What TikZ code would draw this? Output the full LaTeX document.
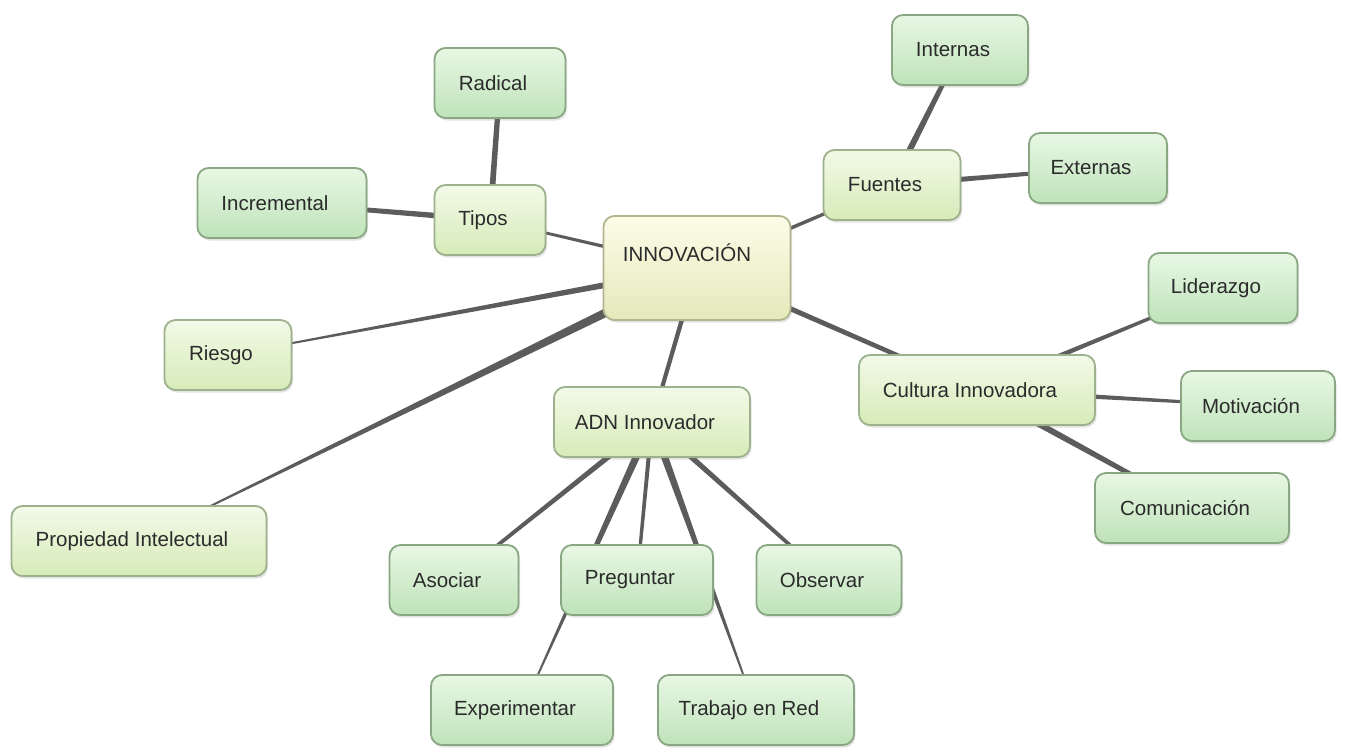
\documentclass[tikz,border=0pt]{standalone}
\usepackage{fontspec}
\setmainfont{Liberation Sans}
\usetikzlibrary{calc,backgrounds,shadows}

\definecolor{inktext}{HTML}{2B2B2B}
\definecolor{linkgray}{HTML}{5C5C5C}
\definecolor{leaftop}{HTML}{E8F7E4}
\definecolor{leafbot}{HTML}{BFE3BA}
\definecolor{leafrim}{HTML}{8AA783}
\definecolor{branchtop}{HTML}{F2FAE8}
\definecolor{branchbot}{HTML}{D6EBB8}
\definecolor{branchrim}{HTML}{9DB28C}
\definecolor{hubtop}{HTML}{FCFCE8}
\definecolor{hubbot}{HTML}{E5E9BA}
\definecolor{hubrim}{HTML}{B2B690}

\tikzset{
  x=1pt, y=-1pt,
  labelfont/.style={font=\fontsize{20.5}{24}\selectfont},
  box/.style={rounded corners=11pt, line width=1.8pt, inner sep=0pt,
    minimum height=70pt, text=inktext, labelfont,
    drop shadow={shadow xshift=1.5pt, shadow yshift=-2.5pt, opacity=0.22},
    execute at end node={\hspace*{14pt}}},
  leaf/.style={box, draw=leafrim, top color=leaftop, bottom color=leafbot},
  branch/.style={box, draw=branchrim, top color=branchtop, bottom color=branchbot},
  hub/.style={box, draw=hubrim, top color=hubtop, bottom color=hubbot},
  link/.style={fill=linkgray}
}

% tapered connector: node A, node B, half width at A, half width at B
\newcommand\linkpair[4]{%
  \fill[link] ($(#1.center)!#3!90:(#2.center)$)
    -- ($(#2.center)!#4!-90:(#1.center)$)
    -- ($(#2.center)!#4!90:(#1.center)$)
    -- ($(#1.center)!#3!-90:(#2.center)$) -- cycle;}

\begin{document}
\begin{tikzpicture}
\useasboundingbox (0,0) rectangle (1351,753);

% central topic
\node[hub, minimum width=187pt, minimum height=104pt,
      execute at end node={},
      label={[name=innovtext, text=inktext, labelfont,
              xshift=-10pt, yshift=15pt]center:INNOVACIÓN}]
      (innov) at (697,268) {};

% first level
\node[branch, minimum width=111pt] (tipos)   at (490,220) {Tipos};
\node[branch, minimum width=137pt] (fuentes) at (892,185) {Fuentes};
\node[branch, minimum width=127pt] (riesgo)  at (228,355) {Riesgo};
\node[branch, minimum width=255pt] (prop)    at (139,541) {Propiedad Intelectual};
\node[branch, minimum width=196pt] (adn)     at (652,422) {ADN Innovador};
\node[branch, minimum width=236pt] (cultura) at (977,390) {Cultura Innovadora};

% second level
\node[leaf, minimum width=131pt] (radical)      at (500,83)   {Radical};
\node[leaf, minimum width=169pt] (incremental)  at (282,203)  {Incremental};
\node[leaf, minimum width=136pt] (internas)     at (960,50)   {Internas};
\node[leaf, minimum width=138pt] (externas)     at (1098,168) {Externas};
\node[leaf, minimum width=149pt] (liderazgo)    at (1223,288) {Liderazgo};
\node[leaf, minimum width=154pt] (motivacion)   at (1258,406) {Motivación};
\node[leaf, minimum width=194pt] (comunicacion) at (1192,508) {Comunicación};
\node[leaf, minimum width=129pt] (asociar)      at (454,580)  {Asociar};
\node[leaf, minimum width=152pt] (preguntar)    at (637,580)  {Preguntar};
\node[leaf, minimum width=145pt] (observar)     at (829,580)  {Observar};
\node[leaf, minimum width=182pt] (experimentar) at (522,710)  {Experimentar};
\node[leaf, minimum width=196pt] (trabajo)      at (756,710)  {Trabajo en Red};

\begin{scope}[on background layer]
  \fill[white] (0,0) rectangle (1351,753);
  \linkpair{innov}{tipos}{2pt}{1.2pt}
  \linkpair{innov}{fuentes}{2pt}{1.5pt}
  \linkpair{innov}{riesgo}{3.5pt}{0.6pt}
  \linkpair{innov}{prop}{5pt}{0.4pt}
  \linkpair{innov}{adn}{2.3pt}{2pt}
  \linkpair{innov}{cultura}{2.8pt}{2pt}
  \linkpair{tipos}{radical}{3pt}{2.5pt}
  \linkpair{tipos}{incremental}{3pt}{2pt}
  \linkpair{fuentes}{internas}{3.5pt}{2pt}
  \linkpair{fuentes}{externas}{3pt}{1.5pt}
  \linkpair{cultura}{liderazgo}{2.8pt}{1.2pt}
  \linkpair{cultura}{motivacion}{3pt}{1pt}
  \linkpair{cultura}{comunicacion}{3.5pt}{2pt}
  \linkpair{adn}{asociar}{3pt}{1.5pt}
  \linkpair{adn}{experimentar}{4pt}{0.5pt}
  \linkpair{adn}{preguntar}{2.2pt}{1.5pt}
  \linkpair{adn}{trabajo}{4pt}{0.5pt}
  \linkpair{adn}{observar}{3pt}{1.5pt}
\end{scope}
\end{tikzpicture}
\end{document}
